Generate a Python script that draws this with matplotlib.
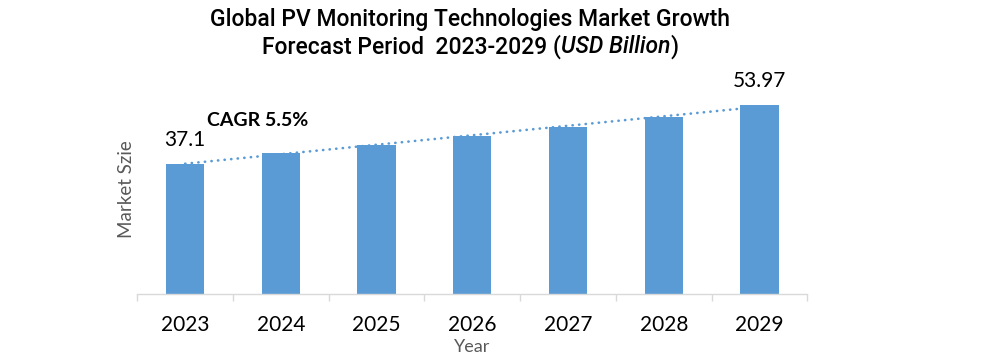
import numpy as np
import matplotlib
matplotlib.use('Agg')
import matplotlib.pyplot as plt

years = ['2023', '2024', '2025', '2026', '2027', '2028', '2029']
market_size = [37.1, 40.4, 42.7, 45.3, 47.8, 50.6, 53.97]
labels_shown = {0: '37.1', 6: '53.97'}

bar_color = '#5B9BD5'
axis_gray = '#D9D9D9'
text_gray = '#595959'

plt.rcParams['font.family'] = ['Lato', 'DejaVu Sans']

fig = plt.figure(figsize=(10, 3.61), dpi=100)
ax = fig.add_axes([0.1373, 0.1864, 0.67, 0.58])

x = np.arange(len(years))

# linear trend, drawn behind the bars
coef = np.polyfit(x, market_size, 1)
trend = np.polyval(coef, x)
ax.plot(x, trend, color=bar_color, lw=1.9, linestyle=(0, (0.1, 2.4)),
        dash_capstyle='round', zorder=1)

ax.bar(x, market_size, width=0.4, color=bar_color, zorder=2)

for i, txt in labels_shown.items():
    ax.annotate(txt, (x[i], market_size[i]), xytext=(0, 10), textcoords='offset points',
                ha='center', va='bottom', fontsize=15, color='black')

ax.text(0.76, 49.5, 'CAGR 5.5%', ha='center', va='center', fontsize=14,
        fontweight='bold', color='black')

ax.set_xlim(-0.5, 6.5)
ax.set_ylim(0, 60)

for side in ['top', 'right', 'left']:
    ax.spines[side].set_visible(False)
ax.spines['bottom'].set_color(axis_gray)
ax.spines['bottom'].set_linewidth(1)

ax.set_yticks([])
ax.set_xticks(x)
ax.set_xticklabels(years, fontsize=15)
ax.set_xticks(np.arange(-0.5, 7, 1), minor=True)
ax.tick_params(axis='x', which='major', length=0, pad=15)
ax.tick_params(axis='x', which='minor', length=5, color=axis_gray, width=1)

ax.set_xlabel('Year', fontsize=13, color=text_gray, labelpad=3)
ax.set_ylabel('Market Szie', fontsize=13.5, color=text_gray, labelpad=2)

# title, second line has an italic part
tfont = ['Roboto', 'DejaVu Sans']
fig.text(0.47, 0.928, 'Global PV Monitoring Technologies Market Growth',
         ha='center', va='baseline', fontsize=16.5, family=tfont, fontweight='medium')

renderer = fig.canvas.get_renderer()
parts = [('Forecast Period  2023-2029 (', 'normal'), ('USD Billion', 'italic'), (')', 'normal')]
pieces = []
for s, style in parts:
    t = fig.text(0, 0.853, s, ha='left', va='baseline', fontsize=16.5,
                 family=tfont, style=style, fontweight='medium')
    pieces.append(t)
widths = [t.get_window_extent(renderer).width for t in pieces]
start = 470 - sum(widths) / 2
for t, w in zip(pieces, widths):
    t.set_x(start / 1000)
    start += w

fig.savefig('out.png', dpi=100)
